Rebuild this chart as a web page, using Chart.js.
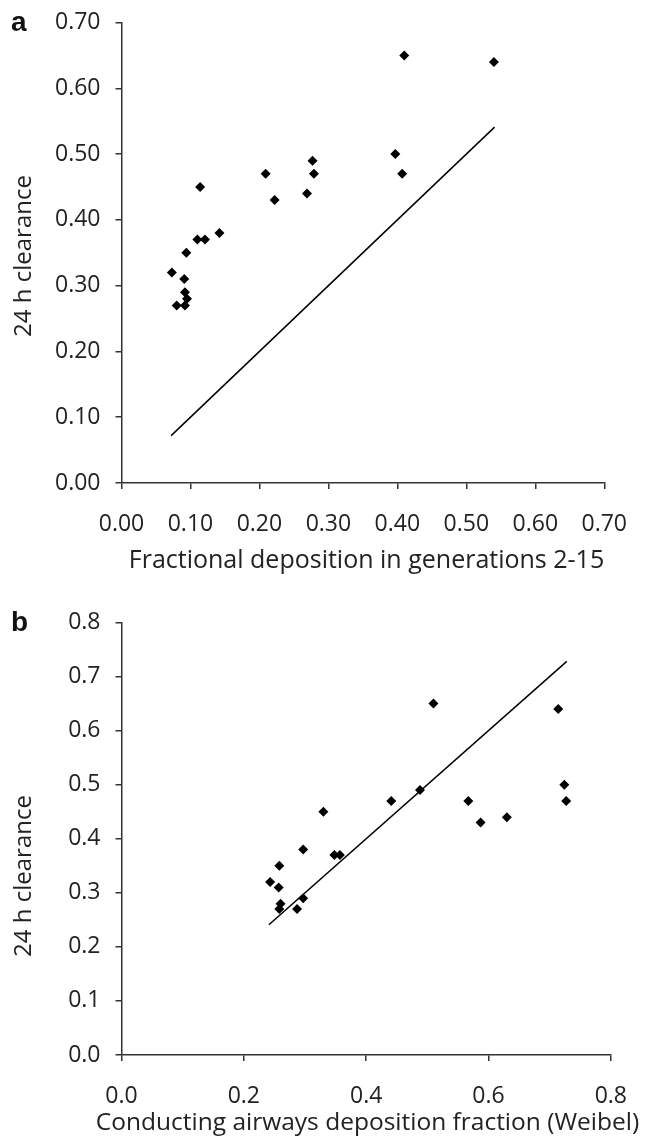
<!DOCTYPE html>
<html>
<head>
<meta charset="utf-8">
<script src="https://cdn.jsdelivr.net/npm/chart.js@4/dist/chart.umd.min.js"></script>
<style>
  body { margin: 0; background: #fff; }
  #wrap { position: relative; width: 649px; height: 1140px; overflow: hidden; }
  canvas { position: absolute; left: 0; }
  .lbl { position: absolute; font: bold 28px/28px "Liberation Sans", Arial, sans-serif; color: #111; }
</style>
</head>
<body>
<div id="wrap">
  <canvas id="chartA" width="649" height="590" style="top:-10px"></canvas>
  <canvas id="chartB" width="649" height="560" style="top:580px"></canvas>
  <div class="lbl" style="left:11px; top:8px">a</div>
  <div class="lbl" style="left:11px; top:608px">b</div>
</div>
<script>
// 24 h clearance for each subject (same in both panels)
var clearance = [0.65, 0.64, 0.50, 0.47, 0.47, 0.47, 0.43, 0.49, 0.44, 0.45,
                 0.37, 0.37, 0.38, 0.35, 0.32, 0.31, 0.29, 0.28, 0.27, 0.27];
// panel a: fractional deposition in generations 2-15
var depGen = [0.410, 0.540, 0.397, 0.407, 0.209, 0.279, 0.222, 0.277, 0.269, 0.114,
              0.110, 0.121, 0.142, 0.094, 0.073, 0.091, 0.092, 0.095, 0.080, 0.092];
// panel b: conducting airways deposition fraction (Weibel)
var depWeibel = [0.510, 0.714, 0.724, 0.727, 0.441, 0.567, 0.587, 0.488, 0.630, 0.330,
                 0.348, 0.357, 0.297, 0.258, 0.243, 0.257, 0.297, 0.260, 0.258, 0.287];
// line of identity, drawn over the x range of each panel
var identityA = [0.072, 0.541];
var identityB = [0.241, 0.728];

var xTitleA = 'Fractional deposition in generations 2-15';
var xTitleB = 'Conducting airways deposition fraction (Weibel)';
var yTitle = '24 h clearance';

Chart.defaults.font.family = '"Open Sans", sans-serif';
Chart.defaults.color = '#222';

// axis titles placed by hand: the built-in ones squeeze text to the axis
// width and always center on the axis, the original does neither
var axisTitles = {
  id: 'axisTitles',
  afterDraw: function(chart, args, opts) {
    var c = chart.ctx;
    c.save();
    c.fillStyle = '#222';
    c.textAlign = 'center';
    c.textBaseline = 'middle';
    c.font = opts.xSize + 'px "Open Sans", sans-serif';
    c.fillText(opts.xText, opts.xAt[0], opts.xAt[1]);
    c.translate(opts.yAt[0], opts.yAt[1]);
    c.rotate(-Math.PI / 2);
    c.font = '24px "Open Sans", sans-serif';
    c.fillText(yTitle, 0, 0);
    c.restore();
  }
};

function pts(xs, ys) {
  var out = [];
  for (var i in xs) out.push({x: xs[i], y: ys[i]});
  return out;
}

function makeChart(id, xs, line, cfg) {
  var ctx = document.getElementById(id);
  var axisLine = { display: true, color: '#333', width: 1.5 };
  var tickMarks = { drawOnChartArea: false, drawTicks: true, tickLength: 6, color: '#333', lineWidth: 1.5 };
  return new Chart(ctx, {
    type: 'scatter',
    plugins: [axisTitles],
    data: {
      datasets: [
        {
          data: pts(xs, clearance),
          pointStyle: 'rectRot',
          pointRadius: 5,
          backgroundColor: '#000',
          borderColor: '#000',
          borderWidth: 0
        },
        {
          data: pts(line, line),
          showLine: true,
          pointRadius: 0,
          borderColor: '#000',
          borderWidth: 1.5
        }
      ]
    },
    options: {
      responsive: false,
      animation: false,
      devicePixelRatio: 1,
      layout: { padding: { top: cfg.padTop, right: cfg.padRight, left: 0, bottom: 0 } },
      plugins: {
        legend: { display: false },
        tooltip: { enabled: false },
        axisTitles: { xText: cfg.xTitle, xSize: cfg.xTitleSize, xAt: cfg.xTitleAt, yAt: cfg.yTitleAt }
      },
      scales: {
        x: {
          type: 'linear',
          min: 0, max: cfg.xMax,
          border: axisLine,
          grid: tickMarks,
          ticks: {
            stepSize: cfg.xStep,
            padding: 22,
            font: { size: 23 },
            callback: function(v) { return v.toFixed(cfg.xDec); }
          },
          afterFit: function(s) { s.height = cfg.xHeight; }
        },
        y: {
          type: 'linear',
          min: 0, max: cfg.yMax,
          border: axisLine,
          grid: tickMarks,
          ticks: {
            stepSize: 0.1,
            padding: 15,
            font: { size: 23 },
            callback: function(v) { return v.toFixed(cfg.yDec); }
          },
          afterFit: function(s) { s.width = 121.5; }
        }
      }
    }
  });
}

makeChart('chartA', depGen, identityA, {
  padTop: 32.5, padRight: 22, xMax: 0.7, xStep: 0.1, xDec: 2, yMax: 0.7, yDec: 2,
  xTitle: xTitleA, xTitleSize: 25, xHeight: 97,
  xTitleAt: [366.5, 571], yTitleAt: [24, 266]
});
makeChart('chartB', depWeibel, identityB, {
  padTop: 42.5, padRight: 32, xMax: 0.8, xStep: 0.2, xDec: 1, yMax: 0.8, yDec: 1,
  xTitle: xTitleB, xTitleSize: 24.5, xHeight: 85,
  xTitleAt: [367.5, 543], yTitleAt: [24, 296]
});
</script>
</body>
</html>
